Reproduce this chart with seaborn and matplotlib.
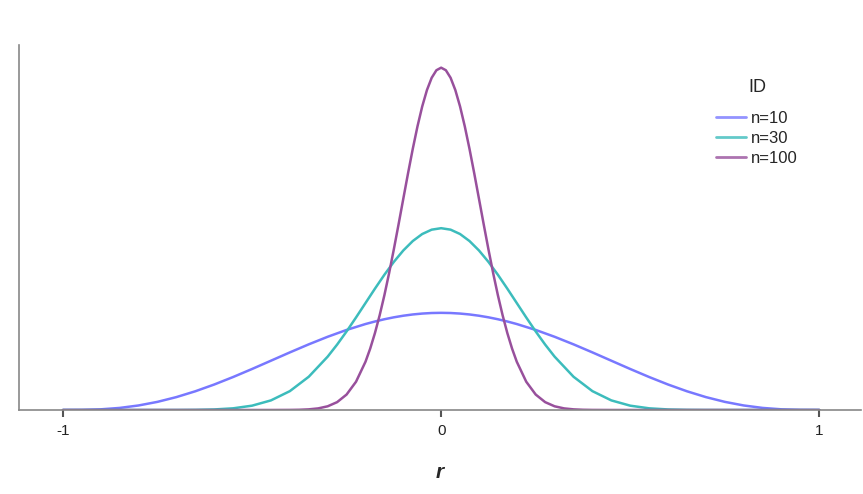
import matplotlib
matplotlib.use("Agg")
import matplotlib.pyplot as plt
import seaborn as sns
import pandas as pd
import numpy as np

# density of r, one list per sample size
r10 = [-1.0, -0.95, -0.9, -0.85, -0.8, -0.75, -0.7, -0.65, -0.6, -0.55, -0.5,
       -0.45, -0.4, -0.35, -0.3, -0.25, -0.2, -0.175, -0.15, -0.125, -0.1, -0.075, -0.05, -0.025, 0.0,
       0.025, 0.05, 0.075, 0.1, 0.125, 0.15, 0.175, 0.2, 0.25, 0.3, 0.35, 0.4, 0.45, 0.5,
       0.55, 0.6, 0.65, 0.7, 0.75, 0.8, 0.85, 0.9, 0.95, 1.0]
d10 = [0.0, 0.001, 0.0077, 0.0239, 0.0521, 0.0936, 0.1483, 0.2153, 0.2931, 0.3794, 0.4717,
       0.5671, 0.6627, 0.7555, 0.8425, 0.9212, 0.9892, 1.0184, 1.0443, 1.0665, 1.0849, 1.0993, 1.1097, 1.116, 1.118,
       1.116, 1.1097, 1.0993, 1.0849, 1.0665, 1.0443, 1.0184, 0.9892, 0.9212, 0.8425, 0.7555, 0.6627, 0.5671, 0.4717,
       0.3794, 0.2931, 0.2153, 0.1483, 0.0936, 0.0521, 0.0239, 0.0077, 0.001, 0.0]

r30 = [-1.0, -0.8, -0.75, -0.7, -0.65, -0.6, -0.55, -0.5, -0.45, -0.4, -0.35, -0.3,
       -0.275, -0.25, -0.225, -0.2, -0.175, -0.15, -0.125, -0.1, -0.075, -0.05, -0.025, 0.0,
       0.025, 0.05, 0.075, 0.1, 0.125, 0.15, 0.175, 0.2, 0.225, 0.25, 0.275,
       0.3, 0.35, 0.4, 0.45, 0.5, 0.55, 0.6, 0.65, 0.7, 0.75, 0.8, 1.0]
d30 = [0.0, 0.0, 0.0001, 0.0003, 0.0017, 0.0063, 0.0193, 0.0497, 0.1104, 0.2169, 0.3826, 0.6139,
       0.7527, 0.904, 1.0648, 1.2305, 1.3962, 1.5563, 1.7047, 1.8358, 1.9441, 2.025, 2.0751, 2.092,
       2.0751, 2.025, 1.9441, 1.8358, 1.7047, 1.5563, 1.3962, 1.2305, 1.0648, 0.904, 0.7527,
       0.6139, 0.3826, 0.2169, 0.1104, 0.0497, 0.0193, 0.0063, 0.0017, 0.0003, 0.0001, 0.0, 0.0]

r100 = [-1.0, -0.5, -0.45, -0.4, -0.375, -0.35, -0.325, -0.3, -0.275, -0.25, -0.225, -0.2,
        -0.1875, -0.175, -0.1625, -0.15, -0.1375, -0.125, -0.1125, -0.1, -0.0875, -0.075,
        -0.0625, -0.05, -0.0375, -0.025, -0.0125, 0.0,
        0.0125, 0.025, 0.0375, 0.05, 0.0625, 0.075, 0.0875, 0.1, 0.1125, 0.125, 0.1375,
        0.15, 0.1625, 0.175, 0.1875, 0.2, 0.225, 0.25,
        0.275, 0.3, 0.325, 0.35, 0.375, 0.4, 0.45, 0.5, 1.0]
d100 = [0.0, 0.0, 0.0001, 0.0009, 0.0027, 0.0074, 0.0185, 0.0426, 0.0904, 0.1778, 0.3254, 0.5551,
        0.7069, 0.8852, 1.0902, 1.3213, 1.5758, 1.8497, 2.1373, 2.4314, 2.7237, 3.0046,
        3.2643, 3.4931, 3.6817, 3.8226, 3.9096, 3.939,
        3.9096, 3.8226, 3.6817, 3.4931, 3.2643, 3.0046, 2.7237, 2.4314, 2.1373, 1.8497, 1.5758,
        1.3213, 1.0902, 0.8852, 0.7069, 0.5551, 0.3254, 0.1778,
        0.0904, 0.0426, 0.0185, 0.0074, 0.0027, 0.0009, 0.0001, 0.0, 0.0]

labels = ["n=10", "n=30", "n=100"]
colors = ["#7878ff", "#3cbcbc", "#98509c"]

df = pd.concat([
    pd.DataFrame({"r": r10, "density": d10, "ID": labels[0]}),
    pd.DataFrame({"r": r30, "density": d30, "ID": labels[1]}),
    pd.DataFrame({"r": r100, "density": d100, "ID": labels[2]}),
])

sns.set_style("white")
plt.rcParams['font.family'] = ['Liberation Sans', 'DejaVu Sans']

fig = plt.figure(figsize=(8.63, 4.94), dpi=100)
ax = fig.add_axes([19 / 863, 1 - 410 / 494, 842 / 863, 365 / 494])

sns.lineplot(data=df, x="r", y="density", hue="ID", palette=colors,
             linewidth=1.8, ax=ax, sort=False)

ax.set_xlim(-1.116, 1.11)
ax.set_ylim(0, 4.2)
ax.set_xticks([-1, 0, 1])
ax.set_xticklabels(["-1", "0", "1"], fontsize=11, color="#222222")
ax.set_yticks([])
ax.set_ylabel("")
ax.set_xlabel("r", fontsize=15, fontweight="bold", fontstyle="italic", labelpad=18)
ax.tick_params(axis="x", direction="out", length=5, width=1.5, color="#555555", bottom=True, pad=5)

for s in ["top", "right"]:
    ax.spines[s].set_visible(False)
for s in ["left", "bottom"]:
    ax.spines[s].set_color("#888888")
    ax.spines[s].set_linewidth(1.2)

leg = ax.legend(title="ID", loc="upper left", bbox_to_anchor=((708 - 19) / 842, 0.93),
                frameon=False, fontsize=12, title_fontsize=13, borderpad=0,
                handlelength=1.8, handletextpad=0.3, labelspacing=0.3)
# extra gap between the title and the entries
leg._legend_box.sep = 11
for line in leg.get_lines():
    line.set_linewidth(2)
    line.set_alpha(0.8)

fig.savefig("out.png", dpi=100)
